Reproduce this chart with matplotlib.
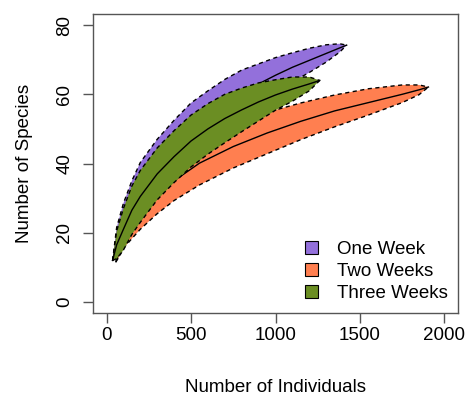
import matplotlib
matplotlib.use('Agg')
from matplotlib import pyplot as plt
from matplotlib.patches import Patch

plt.rcParams['font.family'] = ['Liberation Sans', 'DejaVu Sans']

# One Week
x1 = [36, 60, 100, 150, 200, 300, 400, 500, 600, 700, 800, 900, 1000, 1100, 1200, 1300, 1380, 1421]
mean1 = [12, 17.5, 22.5, 27.5, 31.8, 38.5, 44, 49, 53, 57, 60.2, 63, 65.5, 67.8, 69.8, 71.8, 73.4, 74.2]
upper1 = [12, 21.5, 28.5, 35, 40.3, 47, 52.5, 57.5, 61, 64.3, 67, 68.8, 70.6, 72, 73.3, 74.3, 74.6, 74.2]
lower1 = [12, 13.5, 16.5, 20, 23.3, 30, 35.5, 40.5, 45, 49.7, 53.4, 57.2, 60.4, 63.6, 66.3, 69.3, 72.2, 74.2]

# Two Weeks
x2 = [56, 80, 100, 150, 200, 300, 400, 550, 750, 950, 1150, 1350, 1550, 1750, 1850, 1905]
mean2 = [11.6, 15, 17.5, 21.5, 25, 30.5, 35, 40.1, 44.9, 48.8, 52.2, 55.2, 57.6, 60, 61.3, 62.1]
upper2 = [11.6, 17, 20.5, 25.7, 30, 36.5, 41.3, 46.4, 51.1, 54.8, 57.5, 59.8, 61.6, 62.7, 62.7, 62.1]
lower2 = [11.6, 13.5, 15.5, 18.3, 21, 25.5, 29.3, 33.8, 38.7, 42.8, 46.9, 50.6, 54, 57.6, 59.9, 62.1]

# Three Weeks
x3 = [36, 60, 100, 150, 200, 300, 400, 500, 600, 700, 800, 900, 1000, 1100, 1200, 1262]
mean3 = [12, 16.5, 21, 26.5, 30.5, 37, 42, 46.5, 50, 53, 55.5, 57.8, 59.8, 61.5, 63, 64]
upper3 = [12, 20.5, 27, 33.5, 38, 44.5, 49.5, 54, 57.3, 60, 61.8, 63.3, 64.2, 65, 65, 64]
lower3 = [12, 12.5, 15, 19.5, 23, 29.5, 34.5, 39, 42.7, 46, 49.2, 52.3, 55.4, 58, 61, 64]

labels = ['One Week', 'Two Weeks', 'Three Weeks']
colors = ['mediumpurple', 'coral', 'olivedrab']
fs = 13.5

fig = plt.figure(figsize=(4.67, 3.99), dpi=100)
ax = fig.add_axes([93/467, 86/399, 365/467, 299/399])

series = [(x1, mean1, upper1, lower1), (x2, mean2, upper2, lower2), (x3, mean3, upper3, lower3)]
for (x, m, up, lo), c in zip(series, colors):
	ax.fill(x + x[::-1], up + lo[::-1], color=c, lw=0, zorder=2)
	ax.plot(x, up, color='k', lw=1.0, dashes=(3, 2.5), zorder=2)
	ax.plot(x, lo, color='k', lw=1.0, dashes=(3, 2.5), zorder=2)
	ax.plot(x, m, color='k', lw=1.0, zorder=2)

ax.set_xlim(-80, 2080)
ax.set_ylim(-3.2, 83.2)
ax.set_xticks([0, 500, 1000, 1500, 2000])
ax.set_yticks([0, 20, 40, 60, 80])
for s in ax.spines.values():
	s.set_color('#555555')
	s.set_linewidth(1)
ax.tick_params(axis='both', direction='out', length=7, width=1, color='#555555', labelsize=fs)
ax.tick_params(axis='x', pad=3.0)
ax.tick_params(axis='y', pad=7.2)
for t in ax.get_yticklabels():
	t.set_rotation(90)
	t.set_va('center')

ax.set_xlabel('Number of Individuals', fontsize=fs, va='center')
ax.xaxis.set_label_coords(0.5, (313 - 388) / 299)
ax.set_ylabel('Number of Species', fontsize=fs, va='center')
ax.yaxis.set_label_coords((25 - 93) / 365, 0.5)

handles = [Patch(facecolor=c, edgecolor='k', lw=0.8) for c in colors]
ax.legend(handles, labels, loc='lower right', bbox_to_anchor=(0.972, 0.037), frameon=False,
	fontsize=fs, handlelength=0.68, handleheight=0.68, handletextpad=1.0,
	labelspacing=0.27, borderpad=0, borderaxespad=0)

fig.savefig('out.png', dpi=100)
